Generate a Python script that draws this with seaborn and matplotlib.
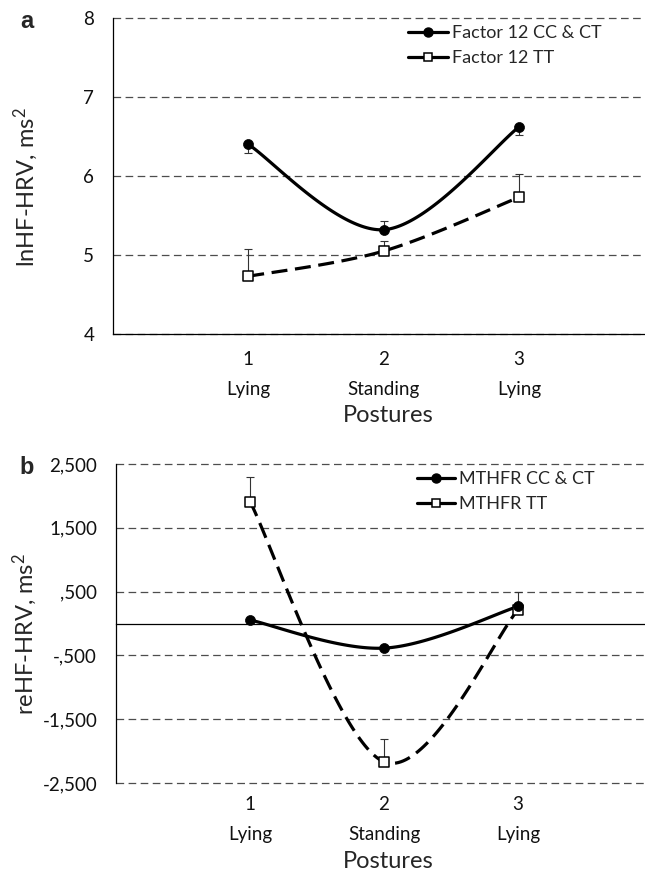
import numpy as np
import pandas as pd
import matplotlib
matplotlib.use("Agg")
import matplotlib.pyplot as plt
import seaborn as sns
from matplotlib.lines import Line2D

# ---------------- data ----------------
postures = [1, 2, 3]
posture_names = ["Lying", "Standing", "Lying"]

# panel a : lnHF-HRV (ms^2)
f12_cc_ct = [6.40, 5.32, 6.62]
f12_cc_ct_err_lo = [0.11, 0.00, 0.10]
f12_cc_ct_err_hi = [0.00, 0.11, 0.00]
f12_tt = [4.73, 5.05, 5.73]
f12_tt_err_lo = [0.00, 0.00, 0.00]
f12_tt_err_hi = [0.34, 0.13, 0.30]

# panel b : reHF-HRV (ms^2)
mthfr_cc_ct = [55, -386, 267]
mthfr_tt = [1912, -2168, 215]
mthfr_tt_err_lo = [0, 0, 0]
mthfr_tt_err_hi = [383, 361, 282]

yticks_a = [4, 5, 6, 7, 8]
ytick_labels_a = ["4", "5", "6", "7", "8"]
yticks_b = [-2500, -1500, -500, 500, 1500, 2500]
ytick_labels_b = ["-2,500", "-1,500", "-,500", ",500", "1,500", "2,500"]

legend_a = ["Factor 12 CC & CT", "Factor 12 TT"]
legend_b = ["MTHFR CC & CT", "MTHFR TT"]

# ---------------- style ----------------
sns.set_style("white")
plt.rcParams["font.family"] = ["Lato", "DejaVu Sans"]
plt.rcParams["mathtext.fontset"] = "custom"
plt.rcParams["mathtext.rm"] = "Lato"
plt.rcParams["lines.scale_dashes"] = False

W, H = 645, 875
fig = plt.figure(figsize=(W / 100, H / 100), dpi=100)

GRID_C = "#4d4d4d"
TICK_FS = 13.5
LAB_FS = 17
LEG_FS = 13
LSP = 1.93


def excel_smooth(xs, ys, n=60):
    """Excel-like smoothed line (Catmull-Rom Bezier) through the data points."""
    P = np.column_stack([xs, ys]).astype(float)
    m = len(P)
    out = []
    t = np.linspace(0, 1, n)[:, None]
    for i in range(m - 1):
        p0 = P[i - 1] if i > 0 else P[i]
        p1, p2 = P[i], P[i + 1]
        p3 = P[i + 2] if i + 2 < m else P[i + 1]
        c1 = p1 + (p2 - p0) / 6.0
        c2 = p2 - (p3 - p1) / 6.0
        seg = (1 - t) ** 3 * p1 + 3 * (1 - t) ** 2 * t * c1 + 3 * (1 - t) * t ** 2 * c2 + t ** 3 * p2
        out.append(seg if i == 0 else seg[1:])
    return np.vstack(out)


def draw_series(ax, y, err_lo, err_hi, dashed, square):
    s = excel_smooth(postures, y)
    df = pd.DataFrame({"x": s[:, 0], "y": s[:, 1]})
    sns.lineplot(data=df, x="x", y="y", ax=ax, color="black", lw=2.3,
                 sort=False, estimator=None, zorder=3)
    line = ax.get_lines()[-1]
    line.set_solid_capstyle("butt")
    if dashed:
        line.set_linestyle((0, (11.5, 5.5)))
        line.set_dash_capstyle("butt")
    ax.errorbar(postures, y, yerr=[err_lo, err_hi], fmt="none", ecolor="#333333",
                elinewidth=0.8, capsize=3.2, capthick=0.8, zorder=2)
    pts = pd.DataFrame({"x": postures, "y": y})
    if square:
        sns.scatterplot(data=pts, x="x", y="y", ax=ax, marker="s", s=42,
                        facecolor="white", edgecolor="black", linewidth=1.1, zorder=4)
    else:
        sns.scatterplot(data=pts, x="x", y="y", ax=ax, marker="o", s=52,
                        color="black", edgecolor="black", linewidth=0.5, zorder=5)


def style_axes(ax, yticks, ylabels, ylim):
    ax.set_ylim(*ylim)
    ax.set_yticks(yticks)
    ax.set_yticklabels(ylabels, fontsize=TICK_FS)
    for v in yticks:
        ax.axhline(v, color=GRID_C, lw=0.9, linestyle=(0, (5.5, 3.2)),
                   clip_on=False, zorder=1)
    ax.spines["top"].set_visible(False)
    ax.spines["right"].set_visible(False)
    ax.spines["left"].set_color("black")
    ax.spines["left"].set_linewidth(0.9)
    ax.tick_params(axis="y", direction="out", length=5, width=0.9, color="black",
                   pad=8.5, labelcolor="#111111")
    ax.set_xticks(postures)


def legend_handles():
    h1 = Line2D([], [], color="black", lw=2.3, marker="o", markersize=6.5,
                markerfacecolor="black")
    h2 = Line2D([], [], color="black", lw=2.3, marker="s", markersize=6.3,
                markerfacecolor="white", markeredgewidth=1.1)
    return [h1, h2]


# ---------------- panel a ----------------
ax_a = fig.add_axes([113 / W, 1 - 334 / H, (W - 113) / W, (334 - 18) / H])
style_axes(ax_a, yticks_a, ytick_labels_a, (yticks_a[0], yticks_a[-1]))
ax_a.set_xlim(0, (W - 113) / 135.3)
draw_series(ax_a, f12_cc_ct, f12_cc_ct_err_lo, f12_cc_ct_err_hi, dashed=False, square=False)
draw_series(ax_a, f12_tt, f12_tt_err_lo, f12_tt_err_hi, dashed=True, square=True)
ax_a.spines["bottom"].set_color("black")
ax_a.spines["bottom"].set_linewidth(0.9)
ax_a.set_xticklabels([f"{p}\n{n}" for p, n in zip(postures, posture_names)], fontsize=TICK_FS)
for lbl in ax_a.get_xticklabels():
    lbl.set_linespacing(LSP)
ax_a.tick_params(axis="x", direction="out", length=5, width=0.9, color="black",
                 pad=7, labelcolor="#111111")
ax_a.set_xlabel("")
fig.text(388 / W, 1 - 415 / H, "Postures", fontsize=LAB_FS, ha="center", va="center")
ax_a.set_ylabel("lnHF-HRV, ms$\\mathregular{^2}$", fontsize=LAB_FS, va="center")
ax_a.yaxis.set_label_coords(-0.165, 0.465)
fig.text(27 / W, 1 - 22 / H, "a", fontsize=17, fontweight="bold",
         family="Liberation Sans", ha="center", va="center")
ax_a.legend(legend_handles(), legend_a, loc="upper left",
            bbox_to_anchor=(408 / W, 1 - 25 / H), bbox_transform=fig.transFigure,
            frameon=False, fontsize=LEG_FS, handlelength=2.2, handletextpad=0.25,
            borderpad=0, borderaxespad=0, labelspacing=0.5)

# ---------------- panel b ----------------
ax_b = fig.add_axes([116 / W, 1 - 783 / H, (W - 116) / W, (783 - 464) / H])
style_axes(ax_b, yticks_b, ytick_labels_b, (yticks_b[0], yticks_b[-1]))
ax_b.set_xlim(0, (W - 116) / 134.0)
draw_series(ax_b, mthfr_cc_ct, [0, 0, 0], [0, 0, 0], dashed=False, square=False)
draw_series(ax_b, mthfr_tt, mthfr_tt_err_lo, mthfr_tt_err_hi, dashed=True, square=True)
ax_b.spines["bottom"].set_position(("data", 0))
ax_b.spines["bottom"].set_color("black")
ax_b.spines["bottom"].set_linewidth(0.9)
ax_b.tick_params(axis="x", direction="out", length=5, width=0.9, color="black",
                 labelbottom=False)
sec = ax_b.secondary_xaxis("bottom")
sec.set_xticks(postures)
sec.set_xticklabels([f"{p}\n{n}" for p, n in zip(postures, posture_names)], fontsize=TICK_FS)
for lbl in sec.get_xticklabels():
    lbl.set_linespacing(LSP)
sec.spines["bottom"].set_visible(False)
sec.tick_params(axis="x", length=0, pad=9, labelcolor="#111111")
ax_b.set_xlabel("")
fig.text(388 / W, 1 - 861 / H, "Postures", fontsize=LAB_FS, ha="center", va="center")
ax_b.set_ylabel("reHF-HRV, ms$\\mathregular{^2}$", fontsize=LAB_FS, va="center")
ax_b.yaxis.set_label_coords(-0.172, 0.467)
fig.text(27 / W, 1 - 468 / H, "b", fontsize=17, fontweight="bold",
         family="Liberation Sans", ha="center", va="center")
ax_b.legend(legend_handles(), legend_b, loc="upper left",
            bbox_to_anchor=(417 / W, 1 - 471 / H), bbox_transform=fig.transFigure,
            frameon=False, fontsize=LEG_FS, handlelength=2.1, handletextpad=0.25,
            borderpad=0, borderaxespad=0, labelspacing=0.5)

fig.savefig("out.png", dpi=100)
